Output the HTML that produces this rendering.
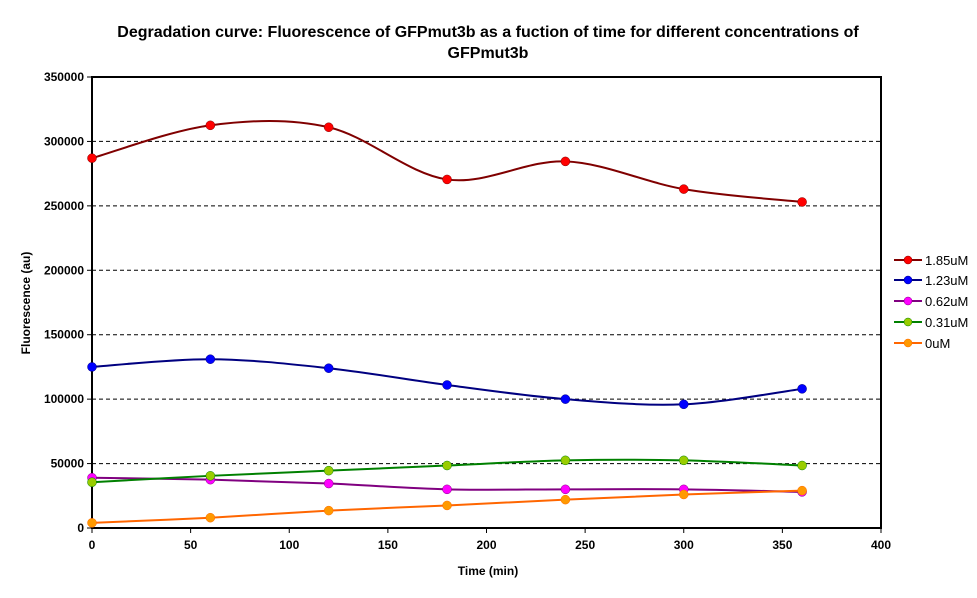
<!DOCTYPE html>
<html><head><meta charset="utf-8"><style>
body{margin:0;background:#fff;}
svg{display:block;font-family:"Liberation Sans",Arial,sans-serif;}
</style></head><body>
<svg id="s" width="977" height="598" xmlns="http://www.w3.org/2000/svg">
<rect width="977" height="598" fill="#fff"/>
<text x="488" y="37" text-anchor="middle" font-size="16" font-weight="bold">Degradation curve: Fluorescence of GFPmut3b as a fuction of time for different concentrations of</text>
<text x="488" y="58" text-anchor="middle" font-size="16" font-weight="bold">GFPmut3b</text>
<g id="grid" stroke="#000" stroke-dasharray="4,3" stroke-width="1"></g>
<rect x="92" y="77" width="789" height="451" fill="none" stroke="#000" stroke-width="2"/>
<g id="ticks" font-size="12" font-weight="bold"></g>
<text x="488" y="575" text-anchor="middle" font-size="12" font-weight="bold">Time (min)</text>
<text transform="translate(30,303) rotate(-90)" text-anchor="middle" font-size="12" font-weight="bold">Fluorescence (au)</text>
<g id="series"></g>
<g id="legend" font-size="13"></g>
</svg>
<script>
var NS="http://www.w3.org/2000/svg";
function el(p,t,a,txt){var e=document.createElementNS(NS,t);for(var k in a)e.setAttribute(k,a[k]);if(txt!==undefined)e.textContent=txt;document.getElementById(p).appendChild(e);return e;}
function Y(v){return 528-v*451/350000;}
function X(t){return 92+t*789/400;}
for(var v=50000;v<=300000;v+=50000){el("grid","line",{x1:92,x2:881,y1:Y(v),y2:Y(v)});}
for(var v=0;v<=350000;v+=50000){el("ticks","line",{x1:87,x2:92,y1:Y(v),y2:Y(v),stroke:"#000"});el("ticks","text",{x:84,y:Y(v)+4,"text-anchor":"end"},String(v));}
for(var t=0;t<=400;t+=50){el("ticks","line",{x1:X(t),x2:X(t),y1:528,y2:533,stroke:"#000"});el("ticks","text",{x:X(t),y:549,"text-anchor":"middle"},String(t));}
var S=[
["1.85uM","#800000","#ff0000",[287000,312500,311000,270500,284500,263000,253000]],
["1.23uM","#000080","#0000ff",[125000,131000,124000,111000,100000,96000,108000]],
["0.62uM","#800080","#ff00ff",[39000,37500,34500,30000,30000,30000,28000]],
["0.31uM","#008000","#99cc00",[35500,40500,44500,48500,52500,52500,48500]],
["0uM","#ff6600","#ff9900",[4000,8000,13500,17500,22000,26000,29000]]];
var times=[0,60,120,180,240,300,360];
S.forEach(function(s,i){
 var p=times.map(function(t,j){return[X(t),Y(s[3][j])];});
 var d="M"+p[0][0]+","+p[0][1];
 for(var j=0;j<p.length-1;j++){
  var p0=p[j-1]||p[j],p1=p[j],p2=p[j+1],p3=p[j+2]||p[j+1];
  var c1=[p1[0]+(p2[0]-p0[0])/6,p1[1]+(p2[1]-p0[1])/6];
  var c2=[p2[0]-(p3[0]-p1[0])/6,p2[1]-(p3[1]-p1[1])/6];
  d+=" C"+c1+" "+c2+" "+p2;
 }
 el("series","path",{d:d,fill:"none",stroke:s[1],"stroke-width":2});
 p.forEach(function(q){el("series","circle",{cx:q[0],cy:q[1],r:4.5,fill:s[2],stroke:s[1],"stroke-width":0.5});});
 var ly=[260,280,301,322,343][i];
 el("legend","line",{x1:894,x2:922,y1:ly,y2:ly,stroke:s[1],"stroke-width":2});
 el("legend","circle",{cx:908,cy:ly,r:4,fill:s[2],stroke:s[1],"stroke-width":0.5});
 el("legend","text",{x:925,y:ly+5},s[0]);
});
</script>
</body></html>
